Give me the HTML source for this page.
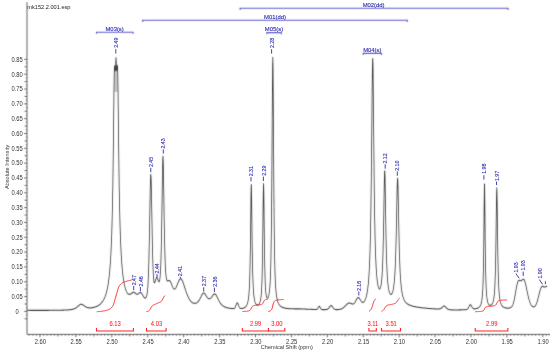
<!DOCTYPE html>
<html><head><meta charset="utf-8"><style>html,body{margin:0;padding:0;background:#fff;overflow:hidden}svg{display:block}</style></head>
<body><svg width="550" height="352" viewBox="0 0 550 352">
<rect width="550" height="352" fill="#fff"/>
<filter id="bl" filterUnits="userSpaceOnUse" x="0" y="0" width="550" height="352"><feConvolveMatrix order="3" kernelMatrix="1 6 1 6 36 6 1 6 1" divisor="64" edgeMode="duplicate"/></filter><g filter="url(#bl)">
<g transform="scale(0.76,1)">
<path d="M35.53,2.2 V334.4 H723.68" fill="none" stroke="#4e4e4e" stroke-width="1.0"/>
<path d="M32.37,318.81H35.53 M34.21,315.11H35.53 M31.84,311.40H35.53 M34.21,307.69H35.53 M32.37,303.99H35.53 M34.21,300.28H35.53 M31.84,296.57H35.53 M34.21,292.87H35.53 M32.37,289.16H35.53 M34.21,285.46H35.53 M31.84,281.75H35.53 M34.21,278.04H35.53 M32.37,274.34H35.53 M34.21,270.63H35.53 M31.84,266.92H35.53 M34.21,263.22H35.53 M32.37,259.51H35.53 M34.21,255.81H35.53 M31.84,252.10H35.53 M34.21,248.39H35.53 M32.37,244.69H35.53 M34.21,240.98H35.53 M31.84,237.27H35.53 M34.21,233.57H35.53 M32.37,229.86H35.53 M34.21,226.16H35.53 M31.84,222.45H35.53 M34.21,218.74H35.53 M32.37,215.04H35.53 M34.21,211.33H35.53 M31.84,207.62H35.53 M34.21,203.92H35.53 M32.37,200.21H35.53 M34.21,196.51H35.53 M31.84,192.80H35.53 M34.21,189.09H35.53 M32.37,185.39H35.53 M34.21,181.68H35.53 M31.84,177.97H35.53 M34.21,174.27H35.53 M32.37,170.56H35.53 M34.21,166.86H35.53 M31.84,163.15H35.53 M34.21,159.44H35.53 M32.37,155.74H35.53 M34.21,152.03H35.53 M31.84,148.32H35.53 M34.21,144.62H35.53 M32.37,140.91H35.53 M34.21,137.21H35.53 M31.84,133.50H35.53 M34.21,129.79H35.53 M32.37,126.09H35.53 M34.21,122.38H35.53 M31.84,118.67H35.53 M34.21,114.97H35.53 M32.37,111.26H35.53 M34.21,107.56H35.53 M31.84,103.85H35.53 M34.21,100.14H35.53 M32.37,96.44H35.53 M34.21,92.73H35.53 M31.84,89.02H35.53 M34.21,85.32H35.53 M32.37,81.61H35.53 M34.21,77.91H35.53 M31.84,74.20H35.53 M34.21,70.49H35.53 M32.37,66.79H35.53 M34.21,63.08H35.53 M31.84,59.37H35.53 M38.45,334.4V335.59999999999997 M43.18,334.4V335.59999999999997 M47.91,334.4V335.59999999999997 M52.63,334.4V337.2 M57.36,334.4V335.59999999999997 M62.08,334.4V335.59999999999997 M66.81,334.4V335.59999999999997 M71.53,334.4V335.59999999999997 M76.26,334.4V336.4 M80.99,334.4V335.59999999999997 M85.71,334.4V335.59999999999997 M90.44,334.4V335.59999999999997 M95.16,334.4V335.59999999999997 M99.89,334.4V337.2 M104.61,334.4V335.59999999999997 M109.34,334.4V335.59999999999997 M114.07,334.4V335.59999999999997 M118.79,334.4V335.59999999999997 M123.52,334.4V336.4 M128.24,334.4V335.59999999999997 M132.97,334.4V335.59999999999997 M137.69,334.4V335.59999999999997 M142.42,334.4V335.59999999999997 M147.14,334.4V337.2 M151.87,334.4V335.59999999999997 M156.60,334.4V335.59999999999997 M161.32,334.4V335.59999999999997 M166.05,334.4V335.59999999999997 M170.77,334.4V336.4 M175.50,334.4V335.59999999999997 M180.22,334.4V335.59999999999997 M184.95,334.4V335.59999999999997 M189.68,334.4V335.59999999999997 M194.40,334.4V337.2 M199.13,334.4V335.59999999999997 M203.85,334.4V335.59999999999997 M208.58,334.4V335.59999999999997 M213.30,334.4V335.59999999999997 M218.03,334.4V336.4 M222.76,334.4V335.59999999999997 M227.48,334.4V335.59999999999997 M232.21,334.4V335.59999999999997 M236.93,334.4V335.59999999999997 M241.66,334.4V337.2 M246.38,334.4V335.59999999999997 M251.11,334.4V335.59999999999997 M255.83,334.4V335.59999999999997 M260.56,334.4V335.59999999999997 M265.29,334.4V336.4 M270.01,334.4V335.59999999999997 M274.74,334.4V335.59999999999997 M279.46,334.4V335.59999999999997 M284.19,334.4V335.59999999999997 M288.91,334.4V337.2 M293.64,334.4V335.59999999999997 M298.37,334.4V335.59999999999997 M303.09,334.4V335.59999999999997 M307.82,334.4V335.59999999999997 M312.54,334.4V336.4 M317.27,334.4V335.59999999999997 M321.99,334.4V335.59999999999997 M326.72,334.4V335.59999999999997 M331.45,334.4V335.59999999999997 M336.17,334.4V337.2 M340.90,334.4V335.59999999999997 M345.62,334.4V335.59999999999997 M350.35,334.4V335.59999999999997 M355.07,334.4V335.59999999999997 M359.80,334.4V336.4 M364.53,334.4V335.59999999999997 M369.25,334.4V335.59999999999997 M373.98,334.4V335.59999999999997 M378.70,334.4V335.59999999999997 M383.43,334.4V337.2 M388.15,334.4V335.59999999999997 M392.88,334.4V335.59999999999997 M397.60,334.4V335.59999999999997 M402.33,334.4V335.59999999999997 M407.06,334.4V336.4 M411.78,334.4V335.59999999999997 M416.51,334.4V335.59999999999997 M421.23,334.4V335.59999999999997 M425.96,334.4V335.59999999999997 M430.68,334.4V337.2 M435.41,334.4V335.59999999999997 M440.14,334.4V335.59999999999997 M444.86,334.4V335.59999999999997 M449.59,334.4V335.59999999999997 M454.31,334.4V336.4 M459.04,334.4V335.59999999999997 M463.76,334.4V335.59999999999997 M468.49,334.4V335.59999999999997 M473.22,334.4V335.59999999999997 M477.94,334.4V337.2 M482.67,334.4V335.59999999999997 M487.39,334.4V335.59999999999997 M492.12,334.4V335.59999999999997 M496.84,334.4V335.59999999999997 M501.57,334.4V336.4 M506.29,334.4V335.59999999999997 M511.02,334.4V335.59999999999997 M515.75,334.4V335.59999999999997 M520.47,334.4V335.59999999999997 M525.20,334.4V337.2 M529.92,334.4V335.59999999999997 M534.65,334.4V335.59999999999997 M539.37,334.4V335.59999999999997 M544.10,334.4V335.59999999999997 M548.83,334.4V336.4 M553.55,334.4V335.59999999999997 M558.28,334.4V335.59999999999997 M563.00,334.4V335.59999999999997 M567.73,334.4V335.59999999999997 M572.45,334.4V337.2 M577.18,334.4V335.59999999999997 M581.91,334.4V335.59999999999997 M586.63,334.4V335.59999999999997 M591.36,334.4V335.59999999999997 M596.08,334.4V336.4 M600.81,334.4V335.59999999999997 M605.53,334.4V335.59999999999997 M610.26,334.4V335.59999999999997 M614.98,334.4V335.59999999999997 M619.71,334.4V337.2 M624.44,334.4V335.59999999999997 M629.16,334.4V335.59999999999997 M633.89,334.4V335.59999999999997 M638.61,334.4V335.59999999999997 M643.34,334.4V336.4 M648.06,334.4V335.59999999999997 M652.79,334.4V335.59999999999997 M657.52,334.4V335.59999999999997 M662.24,334.4V335.59999999999997 M666.97,334.4V337.2 M671.69,334.4V335.59999999999997 M676.42,334.4V335.59999999999997 M681.14,334.4V335.59999999999997 M685.87,334.4V335.59999999999997 M690.60,334.4V336.4 M695.32,334.4V335.59999999999997 M700.05,334.4V335.59999999999997 M704.77,334.4V335.59999999999997 M709.50,334.4V335.59999999999997 M714.22,334.4V337.2 M718.95,334.4V335.59999999999997 M723.67,334.4V335.59999999999997" fill="none" stroke="#4e4e4e" stroke-width="1.0"/>
<rect x="150.39" y="67.5" width="4.47" height="24.5" fill="#c4c4c4"/>
<path d="M35.53,310.33 L35.79,310.33 L36.05,310.34 L36.32,310.34 L36.58,310.34 L36.84,310.34 L37.11,310.34 L37.37,310.34 L37.63,310.34 L37.89,310.34 L38.16,310.34 L38.42,310.34 L38.68,310.34 L38.95,310.35 L39.21,310.35 L39.47,310.35 L39.74,310.35 L40.00,310.35 L40.26,310.35 L40.53,310.35 L40.79,310.35 L41.05,310.35 L41.32,310.35 L41.58,310.35 L41.84,310.35 L42.11,310.35 L42.37,310.36 L42.63,310.36 L42.89,310.36 L43.16,310.36 L43.42,310.36 L43.68,310.36 L43.95,310.36 L44.21,310.36 L44.47,310.36 L44.74,310.36 L45.00,310.36 L45.26,310.36 L45.53,310.36 L45.79,310.36 L46.05,310.36 L46.32,310.36 L46.58,310.36 L46.84,310.36 L47.11,310.36 L47.37,310.37 L47.63,310.37 L47.89,310.37 L48.16,310.37 L48.42,310.37 L48.68,310.37 L48.95,310.37 L49.21,310.37 L49.47,310.37 L49.74,310.37 L50.00,310.37 L50.26,310.37 L50.53,310.37 L50.79,310.37 L51.05,310.37 L51.32,310.37 L51.58,310.37 L51.84,310.37 L52.11,310.37 L52.37,310.37 L52.63,310.37 L52.89,310.37 L53.16,310.37 L53.42,310.37 L53.68,310.37 L53.95,310.37 L54.21,310.37 L54.47,310.37 L54.74,310.37 L55.00,310.37 L55.26,310.37 L55.53,310.37 L55.79,310.37 L56.05,310.37 L56.32,310.37 L56.58,310.37 L56.84,310.37 L57.11,310.37 L57.37,310.37 L57.63,310.37 L57.89,310.37 L58.16,310.36 L58.42,310.36 L58.68,310.36 L58.95,310.36 L59.21,310.36 L59.47,310.36 L59.74,310.36 L60.00,310.36 L60.26,310.36 L60.53,310.36 L60.79,310.36 L61.05,310.36 L61.32,310.36 L61.58,310.36 L61.84,310.36 L62.11,310.35 L62.37,310.35 L62.63,310.35 L62.89,310.35 L63.16,310.35 L63.42,310.35 L63.68,310.35 L63.95,310.35 L64.21,310.35 L64.47,310.34 L64.74,310.34 L65.00,310.34 L65.26,310.34 L65.53,310.34 L65.79,310.34 L66.05,310.34 L66.32,310.33 L66.58,310.33 L66.84,310.33 L67.11,310.33 L67.37,310.33 L67.63,310.33 L67.89,310.32 L68.16,310.32 L68.42,310.32 L68.68,310.32 L68.95,310.32 L69.21,310.31 L69.47,310.31 L69.74,310.31 L70.00,310.31 L70.26,310.31 L70.53,310.30 L70.79,310.30 L71.05,310.30 L71.32,310.30 L71.58,310.29 L71.84,310.29 L72.11,310.29 L72.37,310.28 L72.63,310.28 L72.89,310.28 L73.16,310.28 L73.42,310.27 L73.68,310.27 L73.95,310.27 L74.21,310.26 L74.47,310.26 L74.74,310.26 L75.00,310.25 L75.26,310.25 L75.53,310.24 L75.79,310.24 L76.05,310.24 L76.32,310.23 L76.58,310.23 L76.84,310.22 L77.11,310.22 L77.37,310.22 L77.63,310.21 L77.89,310.21 L78.16,310.20 L78.42,310.20 L78.68,310.19 L78.95,310.19 L79.21,310.18 L79.47,310.18 L79.74,310.18 L80.00,310.17 L80.26,310.17 L80.53,310.17 L80.79,310.16 L81.05,310.16 L81.32,310.15 L81.58,310.15 L81.84,310.14 L82.11,310.14 L82.37,310.13 L82.63,310.13 L82.89,310.12 L83.16,310.12 L83.42,310.11 L83.68,310.10 L83.95,310.10 L84.21,310.09 L84.47,310.08 L84.74,310.08 L85.00,310.07 L85.26,310.06 L85.53,310.05 L85.79,310.05 L86.05,310.04 L86.32,310.03 L86.58,310.02 L86.84,310.01 L87.11,310.00 L87.37,309.99 L87.63,309.98 L87.89,309.97 L88.16,309.96 L88.42,309.95 L88.68,309.93 L88.95,309.92 L89.21,309.91 L89.47,309.90 L89.74,309.88 L90.00,309.87 L90.26,309.85 L90.53,309.83 L90.79,309.82 L91.05,309.80 L91.32,309.78 L91.58,309.76 L91.84,309.74 L92.11,309.72 L92.37,309.69 L92.63,309.67 L92.89,309.64 L93.16,309.62 L93.42,309.59 L93.68,309.56 L93.95,309.52 L94.21,309.49 L94.47,309.45 L94.74,309.41 L95.00,309.37 L95.26,309.33 L95.53,309.28 L95.79,309.23 L96.05,309.18 L96.32,309.12 L96.58,309.06 L96.84,308.99 L97.11,308.92 L97.37,308.85 L97.63,308.77 L97.89,308.69 L98.16,308.60 L98.42,308.51 L98.68,308.41 L98.95,308.31 L99.21,308.20 L99.47,308.09 L99.74,307.96 L100.00,307.84 L100.26,307.71 L100.53,307.57 L100.79,307.42 L101.05,307.27 L101.32,307.12 L101.58,306.96 L101.84,306.79 L102.11,306.62 L102.37,306.45 L102.63,306.27 L102.89,306.09 L103.16,305.91 L103.42,305.73 L103.68,305.55 L103.95,305.38 L104.21,305.21 L104.47,305.04 L104.74,304.89 L105.00,304.75 L105.26,304.62 L105.53,304.50 L105.79,304.40 L106.05,304.32 L106.32,304.27 L106.58,304.23 L106.84,304.21 L107.11,304.22 L107.37,304.25 L107.63,304.30 L107.89,304.36 L108.16,304.45 L108.42,304.55 L108.68,304.66 L108.95,304.79 L109.21,304.92 L109.47,305.06 L109.74,305.21 L110.00,305.36 L110.26,305.51 L110.53,305.66 L110.79,305.81 L111.05,305.96 L111.32,306.10 L111.58,306.24 L111.84,306.38 L112.11,306.51 L112.37,306.63 L112.63,306.75 L112.89,306.87 L113.16,306.97 L113.42,307.07 L113.68,307.17 L113.95,307.26 L114.21,307.34 L114.47,307.41 L114.74,307.48 L115.00,307.55 L115.26,307.60 L115.53,307.66 L115.79,307.70 L116.05,307.74 L116.32,307.78 L116.58,307.81 L116.84,307.84 L117.11,307.86 L117.37,307.88 L117.63,307.89 L117.89,307.90 L118.16,307.90 L118.42,307.91 L118.68,307.90 L118.95,307.90 L119.21,307.89 L119.47,307.88 L119.74,307.86 L120.00,307.85 L120.26,307.83 L120.53,307.80 L120.79,307.78 L121.05,307.75 L121.32,307.72 L121.58,307.68 L121.84,307.65 L122.11,307.61 L122.37,307.57 L122.63,307.53 L122.89,307.48 L123.16,307.44 L123.42,307.39 L123.68,307.33 L123.95,307.28 L124.21,307.22 L124.47,307.16 L124.74,307.10 L125.00,307.04 L125.26,306.97 L125.53,306.90 L125.79,306.83 L126.05,306.76 L126.32,306.68 L126.58,306.60 L126.84,306.51 L127.11,306.43 L127.37,306.34 L127.63,306.25 L127.89,306.15 L128.16,306.05 L128.42,305.95 L128.68,305.84 L128.95,305.73 L129.21,305.61 L129.47,305.49 L129.74,305.37 L130.00,305.24 L130.26,305.11 L130.53,304.97 L130.79,304.82 L131.05,304.67 L131.32,304.52 L131.58,304.36 L131.84,304.18 L132.11,303.99 L132.37,303.80 L132.63,303.60 L132.89,303.39 L133.16,303.18 L133.42,302.96 L133.68,302.72 L133.95,302.48 L134.21,302.23 L134.47,301.97 L134.74,301.70 L135.00,301.41 L135.26,301.12 L135.53,300.81 L135.79,300.49 L136.05,300.15 L136.32,299.80 L136.58,299.43 L136.84,299.05 L137.11,298.64 L137.37,298.22 L137.63,297.78 L137.89,297.31 L138.16,296.82 L138.42,296.31 L138.68,295.77 L138.95,295.20 L139.21,294.60 L139.47,293.96 L139.74,293.29 L140.00,292.58 L140.26,291.83 L140.53,291.04 L140.79,290.20 L141.05,289.31 L141.32,288.36 L141.58,287.34 L141.84,286.27 L142.11,285.11 L142.37,283.88 L142.63,282.57 L142.89,281.16 L143.16,279.64 L143.42,278.01 L143.68,276.25 L143.95,274.35 L144.21,272.30 L144.47,270.07 L144.74,267.65 L145.00,265.01 L145.26,262.12 L145.53,258.96 L145.79,255.49 L146.05,251.65 L146.32,247.41 L146.58,242.68 L146.84,237.41 L147.11,231.48 L147.37,224.80 L147.63,217.21 L147.89,208.55 L148.16,198.63 L148.42,187.21 L148.68,174.09 L148.95,159.12 L149.21,142.33 L149.47,124.16 L149.74,105.73 L150.00,88.88 L150.26,75.83 L150.53,68.13 L150.79,65.69 L151.05,66.85 L151.32,69.30 L151.58,71.02 L151.84,70.50 L152.11,66.87 L152.37,60.93 L152.63,57.52 L152.89,60.86 L153.16,66.74 L153.42,70.31 L153.68,70.77 L153.95,69.00 L154.21,66.49 L154.47,65.28 L154.74,67.66 L155.00,75.32 L155.26,88.31 L155.53,105.11 L155.79,123.49 L156.05,141.61 L156.32,158.35 L156.58,173.27 L156.84,186.34 L157.11,197.70 L157.37,207.57 L157.63,216.17 L157.89,223.71 L158.16,230.34 L158.42,236.20 L158.68,241.42 L158.95,246.08 L159.21,250.27 L159.47,254.04 L159.74,257.45 L160.00,260.55 L160.26,263.36 L160.53,265.93 L160.79,268.28 L161.05,270.44 L161.32,272.42 L161.58,274.24 L161.84,275.92 L162.11,277.47 L162.37,278.90 L162.63,280.23 L162.89,281.46 L163.16,282.60 L163.42,283.65 L163.68,284.63 L163.95,285.54 L164.21,286.39 L164.47,287.17 L164.74,287.90 L165.00,288.57 L165.26,289.20 L165.53,289.78 L165.79,290.32 L166.05,290.81 L166.32,291.27 L166.58,291.69 L166.84,292.07 L167.11,292.42 L167.37,292.74 L167.63,293.03 L167.89,293.28 L168.16,293.51 L168.42,293.71 L168.68,293.88 L168.95,294.03 L169.21,294.15 L169.47,294.24 L169.74,294.31 L170.00,294.35 L170.26,294.37 L170.53,294.37 L170.79,294.34 L171.05,294.30 L171.32,294.23 L171.58,294.14 L171.84,294.04 L172.11,293.92 L172.37,293.79 L172.63,293.64 L172.89,293.48 L173.16,293.32 L173.42,293.16 L173.68,293.00 L173.95,292.84 L174.21,292.69 L174.47,292.55 L174.74,292.44 L175.00,292.34 L175.26,292.27 L175.53,292.23 L175.79,292.21 L176.05,292.23 L176.32,292.28 L176.58,292.36 L176.84,292.46 L177.11,292.59 L177.37,292.74 L177.63,292.91 L177.89,293.09 L178.16,293.27 L178.42,293.45 L178.68,293.62 L178.95,293.79 L179.21,293.93 L179.47,294.05 L179.74,294.15 L180.00,294.22 L180.26,294.25 L180.53,294.26 L180.79,294.24 L181.05,294.18 L181.32,294.10 L181.58,293.99 L181.84,293.86 L182.11,293.71 L182.37,293.55 L182.63,293.38 L182.89,293.21 L183.16,293.05 L183.42,292.90 L183.68,292.76 L183.95,292.65 L184.21,292.56 L184.47,292.51 L184.74,292.50 L185.00,292.52 L185.26,292.58 L185.53,292.69 L185.79,292.84 L186.05,293.03 L186.32,293.26 L186.58,293.52 L186.84,293.82 L187.11,294.14 L187.37,294.49 L187.63,294.85 L187.89,295.22 L188.16,295.59 L188.42,295.96 L188.68,296.31 L188.95,296.65 L189.21,296.97 L189.47,297.26 L189.74,297.52 L190.00,297.73 L190.26,297.90 L190.53,298.03 L190.79,298.10 L191.05,298.11 L191.32,298.06 L191.58,297.94 L191.84,297.75 L192.11,297.48 L192.37,297.11 L192.63,296.64 L192.89,296.03 L193.16,295.27 L193.42,294.31 L193.68,293.10 L193.95,291.58 L194.21,289.66 L194.47,287.24 L194.74,284.21 L195.00,280.44 L195.26,275.80 L195.53,270.17 L195.79,263.45 L196.05,255.56 L196.32,246.52 L196.58,236.38 L196.84,225.34 L197.11,213.74 L197.37,202.15 L197.63,191.36 L197.89,182.42 L198.16,176.42 L198.42,174.25 L198.68,176.26 L198.95,182.10 L199.21,190.87 L199.47,201.46 L199.74,212.81 L200.00,224.13 L200.26,234.85 L200.53,244.61 L200.79,253.21 L201.05,260.57 L201.32,266.68 L201.58,271.62 L201.84,275.46 L202.11,278.34 L202.37,280.39 L202.63,281.73 L202.89,282.50 L203.16,282.81 L203.42,282.75 L203.68,282.43 L203.95,281.92 L204.21,281.29 L204.47,280.60 L204.74,279.90 L205.00,279.24 L205.26,278.65 L205.53,278.18 L205.79,277.84 L206.05,277.64 L206.32,277.59 L206.58,277.69 L206.84,277.94 L207.11,278.30 L207.37,278.76 L207.63,279.29 L207.89,279.86 L208.16,280.41 L208.42,280.93 L208.68,281.35 L208.95,281.65 L209.21,281.77 L209.47,281.67 L209.74,281.28 L210.00,280.55 L210.26,279.40 L210.53,277.74 L210.79,275.48 L211.05,272.50 L211.32,268.64 L211.58,263.78 L211.84,257.73 L212.11,250.35 L212.37,241.48 L212.63,231.04 L212.89,219.05 L213.16,205.75 L213.42,191.71 L213.68,178.03 L213.95,166.32 L214.21,158.50 L214.47,156.15 L214.74,159.76 L215.00,168.51 L215.26,180.64 L215.53,194.30 L215.79,207.97 L216.05,220.72 L216.32,232.08 L216.58,241.89 L216.84,250.16 L217.11,257.02 L217.37,262.61 L217.63,267.10 L217.89,270.67 L218.16,273.46 L218.42,275.62 L218.68,277.26 L218.95,278.50 L219.21,279.40 L219.47,280.04 L219.74,280.47 L220.00,280.74 L220.26,280.89 L220.53,280.94 L220.79,280.93 L221.05,280.87 L221.32,280.79 L221.58,280.70 L221.84,280.61 L222.11,280.55 L222.37,280.51 L222.63,280.52 L222.89,280.56 L223.16,280.66 L223.42,280.81 L223.68,281.02 L223.95,281.28 L224.21,281.59 L224.47,281.95 L224.74,282.35 L225.00,282.79 L225.26,283.27 L225.53,283.76 L225.79,284.28 L226.05,284.80 L226.32,285.31 L226.58,285.83 L226.84,286.32 L227.11,286.79 L227.37,287.23 L227.63,287.63 L227.89,287.99 L228.16,288.30 L228.42,288.56 L228.68,288.77 L228.95,288.92 L229.21,289.02 L229.47,289.06 L229.74,289.04 L230.00,288.96 L230.26,288.83 L230.53,288.65 L230.79,288.42 L231.05,288.14 L231.32,287.82 L231.58,287.47 L231.84,287.07 L232.11,286.65 L232.37,286.20 L232.63,285.73 L232.89,285.24 L233.16,284.74 L233.42,284.23 L233.68,283.72 L233.95,283.21 L234.21,282.71 L234.47,282.21 L234.74,281.74 L235.00,281.28 L235.26,280.86 L235.53,280.46 L235.79,280.09 L236.05,279.77 L236.32,279.48 L236.58,279.24 L236.84,279.05 L237.11,278.92 L237.37,278.83 L237.63,278.80 L237.89,278.82 L238.16,278.90 L238.42,279.03 L238.68,279.21 L238.95,279.45 L239.21,279.74 L239.47,280.07 L239.74,280.44 L240.00,280.86 L240.26,281.31 L240.53,281.80 L240.79,282.31 L241.05,282.85 L241.32,283.41 L241.58,283.99 L241.84,284.59 L242.11,285.20 L242.37,285.81 L242.63,286.44 L242.89,287.06 L243.16,287.69 L243.42,288.32 L243.68,288.94 L243.95,289.55 L244.21,290.16 L244.47,290.77 L244.74,291.36 L245.00,291.94 L245.26,292.51 L245.53,293.06 L245.79,293.61 L246.05,294.14 L246.32,294.65 L246.58,295.15 L246.84,295.63 L247.11,296.10 L247.37,296.55 L247.63,296.99 L247.89,297.41 L248.16,297.81 L248.42,298.20 L248.68,298.57 L248.95,298.92 L249.21,299.26 L249.47,299.59 L249.74,299.89 L250.00,300.19 L250.26,300.46 L250.53,300.73 L250.79,300.97 L251.05,301.21 L251.32,301.43 L251.58,301.64 L251.84,301.83 L252.11,302.01 L252.37,302.18 L252.63,302.34 L252.89,302.48 L253.16,302.61 L253.42,302.74 L253.68,302.85 L253.95,302.95 L254.21,303.03 L254.47,303.11 L254.74,303.18 L255.00,303.23 L255.26,303.28 L255.53,303.31 L255.79,303.34 L256.05,303.35 L256.32,303.36 L256.58,303.35 L256.84,303.33 L257.11,303.30 L257.37,303.26 L257.63,303.20 L257.89,303.14 L258.16,303.06 L258.42,302.97 L258.68,302.86 L258.95,302.74 L259.21,302.61 L259.47,302.46 L259.74,302.30 L260.00,302.12 L260.26,301.93 L260.53,301.72 L260.79,301.49 L261.05,301.25 L261.32,300.99 L261.58,300.71 L261.84,300.42 L262.11,300.11 L262.37,299.78 L262.63,299.44 L262.89,299.08 L263.16,298.70 L263.42,298.33 L263.68,297.94 L263.95,297.54 L264.21,297.14 L264.47,296.73 L264.74,296.31 L265.00,295.90 L265.26,295.50 L265.53,295.11 L265.79,294.73 L266.05,294.38 L266.32,294.06 L266.58,293.77 L266.84,293.52 L267.11,293.31 L267.37,293.15 L267.63,293.05 L267.89,293.00 L268.16,293.00 L268.42,293.06 L268.68,293.17 L268.95,293.32 L269.21,293.52 L269.47,293.75 L269.74,294.02 L270.00,294.31 L270.26,294.62 L270.53,294.95 L270.79,295.28 L271.05,295.61 L271.32,295.94 L271.58,296.26 L271.84,296.58 L272.11,296.88 L272.37,297.16 L272.63,297.43 L272.89,297.67 L273.16,297.90 L273.42,298.10 L273.68,298.28 L273.95,298.43 L274.21,298.56 L274.47,298.66 L274.74,298.73 L275.00,298.78 L275.26,298.81 L275.53,298.80 L275.79,298.77 L276.05,298.72 L276.32,298.63 L276.58,298.53 L276.84,298.40 L277.11,298.24 L277.37,298.07 L277.63,297.87 L277.89,297.65 L278.16,297.42 L278.42,297.17 L278.68,296.90 L278.95,296.63 L279.21,296.34 L279.47,296.06 L279.74,295.77 L280.00,295.48 L280.26,295.21 L280.53,294.94 L280.79,294.70 L281.05,294.48 L281.32,294.29 L281.58,294.13 L281.84,294.00 L282.11,293.93 L282.37,293.89 L282.63,293.90 L282.89,293.96 L283.16,294.07 L283.42,294.22 L283.68,294.42 L283.95,294.66 L284.21,294.94 L284.47,295.25 L284.74,295.60 L285.00,295.96 L285.26,296.35 L285.53,296.75 L285.79,297.16 L286.05,297.58 L286.32,298.00 L286.58,298.43 L286.84,298.85 L287.11,299.26 L287.37,299.67 L287.63,300.07 L287.89,300.46 L288.16,300.84 L288.42,301.20 L288.68,301.55 L288.95,301.90 L289.21,302.22 L289.47,302.54 L289.74,302.84 L290.00,303.13 L290.26,303.40 L290.53,303.67 L290.79,303.92 L291.05,304.16 L291.32,304.39 L291.58,304.60 L291.84,304.81 L292.11,305.00 L292.37,305.19 L292.63,305.37 L292.89,305.54 L293.16,305.70 L293.42,305.85 L293.68,305.99 L293.95,306.13 L294.21,306.26 L294.47,306.38 L294.74,306.50 L295.00,306.61 L295.26,306.71 L295.53,306.81 L295.79,306.91 L296.05,307.00 L296.32,307.08 L296.58,307.17 L296.84,307.24 L297.11,307.32 L297.37,307.39 L297.63,307.46 L297.89,307.52 L298.16,307.58 L298.42,307.64 L298.68,307.70 L298.95,307.75 L299.21,307.81 L299.47,307.86 L299.74,307.90 L300.00,307.95 L300.26,307.99 L300.53,308.04 L300.79,308.08 L301.05,308.12 L301.32,308.15 L301.58,308.19 L301.84,308.23 L302.11,308.26 L302.37,308.29 L302.63,308.32 L302.89,308.35 L303.16,308.38 L303.42,308.41 L303.68,308.43 L303.95,308.46 L304.21,308.48 L304.47,308.50 L304.74,308.52 L305.00,308.54 L305.26,308.56 L305.53,308.58 L305.79,308.59 L306.05,308.60 L306.32,308.61 L306.58,308.61 L306.84,308.61 L307.11,308.60 L307.37,308.58 L307.63,308.54 L307.89,308.47 L308.16,308.38 L308.42,308.26 L308.68,308.09 L308.95,307.86 L309.21,307.58 L309.47,307.24 L309.74,306.84 L310.00,306.37 L310.26,305.86 L310.53,305.32 L310.79,304.77 L311.05,304.23 L311.32,303.74 L311.58,303.33 L311.84,303.04 L312.11,302.88 L312.37,302.87 L312.63,303.02 L312.89,303.31 L313.16,303.71 L313.42,304.20 L313.68,304.73 L313.95,305.29 L314.21,305.83 L314.47,306.34 L314.74,306.81 L315.00,307.22 L315.26,307.56 L315.53,307.85 L315.79,308.07 L316.05,308.24 L316.32,308.36 L316.58,308.45 L316.84,308.51 L317.11,308.54 L317.37,308.55 L317.63,308.55 L317.89,308.54 L318.16,308.52 L318.42,308.49 L318.68,308.46 L318.95,308.42 L319.21,308.37 L319.47,308.32 L319.74,308.27 L320.00,308.21 L320.26,308.14 L320.53,308.07 L320.79,307.98 L321.05,307.90 L321.32,307.80 L321.58,307.69 L321.84,307.57 L322.11,307.44 L322.37,307.30 L322.63,307.14 L322.89,306.97 L323.16,306.77 L323.42,306.56 L323.68,306.32 L323.95,306.05 L324.21,305.74 L324.47,305.40 L324.74,305.02 L325.00,304.58 L325.26,304.07 L325.53,303.50 L325.79,302.83 L326.05,302.05 L326.32,301.14 L326.58,300.07 L326.84,298.79 L327.11,297.25 L327.37,295.38 L327.63,293.09 L327.89,290.25 L328.16,286.68 L328.42,282.15 L328.68,276.31 L328.95,268.75 L329.21,258.90 L329.47,246.23 L329.74,230.48 L330.00,212.47 L330.26,195.27 L330.53,184.44 L330.79,184.98 L331.05,196.59 L331.32,214.01 L331.58,231.84 L331.84,247.26 L332.11,259.60 L332.37,269.16 L332.63,276.50 L332.89,282.15 L333.16,286.54 L333.42,289.99 L333.68,292.72 L333.95,294.92 L334.21,296.70 L334.47,298.16 L334.74,299.36 L335.00,300.36 L335.26,301.19 L335.53,301.89 L335.79,302.48 L336.05,302.98 L336.32,303.40 L336.58,303.75 L336.84,304.05 L337.11,304.30 L337.37,304.50 L337.63,304.66 L337.89,304.79 L338.16,304.88 L338.42,304.94 L338.68,304.97 L338.95,304.97 L339.21,304.94 L339.47,304.88 L339.74,304.79 L340.00,304.67 L340.26,304.52 L340.53,304.32 L340.79,304.09 L341.05,303.81 L341.32,303.47 L341.58,303.08 L341.84,302.61 L342.11,302.06 L342.37,301.40 L342.63,300.61 L342.89,299.67 L343.16,298.52 L343.42,297.10 L343.68,295.30 L343.95,292.98 L344.21,289.90 L344.47,285.76 L344.74,280.14 L345.00,272.57 L345.26,262.55 L345.53,249.68 L345.79,233.90 L346.05,216.02 L346.32,198.52 L346.58,186.02 L346.84,183.49 L347.11,192.07 L347.37,207.95 L347.63,225.93 L347.89,242.60 L348.16,256.55 L348.42,267.56 L348.68,275.92 L348.95,282.11 L349.21,286.61 L349.47,289.88 L349.74,292.26 L350.00,294.02 L350.26,295.32 L350.53,296.30 L350.79,297.02 L351.05,297.54 L351.32,297.89 L351.58,298.09 L351.84,298.17 L352.11,298.12 L352.37,297.95 L352.63,297.66 L352.89,297.26 L353.16,296.72 L353.42,296.04 L353.68,295.21 L353.95,294.19 L354.21,292.97 L354.47,291.50 L354.74,289.72 L355.00,287.54 L355.26,284.86 L355.53,281.49 L355.79,277.19 L356.05,271.62 L356.32,264.34 L356.58,254.77 L356.84,242.27 L357.11,226.15 L357.37,205.82 L357.63,180.95 L357.89,151.83 L358.16,120.04 L358.42,89.36 L358.68,66.13 L358.95,57.35 L359.21,66.21 L359.47,89.51 L359.74,120.26 L360.00,152.13 L360.26,181.33 L360.53,206.28 L360.79,226.69 L361.05,242.89 L361.32,255.48 L361.58,265.15 L361.84,272.54 L362.11,278.21 L362.37,282.62 L362.63,286.11 L362.89,288.92 L363.16,291.24 L363.42,293.18 L363.68,294.82 L363.95,296.23 L364.21,297.44 L364.47,298.50 L364.74,299.43 L365.00,300.25 L365.26,300.97 L365.53,301.61 L365.79,302.19 L366.05,302.70 L366.32,303.17 L366.58,303.59 L366.84,303.96 L367.11,304.31 L367.37,304.62 L367.63,304.91 L367.89,305.17 L368.16,305.41 L368.42,305.63 L368.68,305.83 L368.95,306.02 L369.21,306.20 L369.47,306.36 L369.74,306.51 L370.00,306.65 L370.26,306.78 L370.53,306.90 L370.79,307.01 L371.05,307.11 L371.32,307.21 L371.58,307.31 L371.84,307.39 L372.11,307.47 L372.37,307.55 L372.63,307.62 L372.89,307.69 L373.16,307.75 L373.42,307.81 L373.68,307.87 L373.95,307.93 L374.21,307.98 L374.47,308.02 L374.74,308.07 L375.00,308.11 L375.26,308.15 L375.53,308.19 L375.79,308.23 L376.05,308.26 L376.32,308.30 L376.58,308.33 L376.84,308.36 L377.11,308.39 L377.37,308.41 L377.63,308.44 L377.89,308.46 L378.16,308.49 L378.42,308.51 L378.68,308.53 L378.95,308.55 L379.21,308.57 L379.47,308.59 L379.74,308.60 L380.00,308.62 L380.26,308.63 L380.53,308.65 L380.79,308.66 L381.05,308.68 L381.32,308.69 L381.58,308.70 L381.84,308.71 L382.11,308.72 L382.37,308.73 L382.63,308.74 L382.89,308.75 L383.16,308.76 L383.42,308.77 L383.68,308.77 L383.95,308.78 L384.21,308.79 L384.47,308.80 L384.74,308.80 L385.00,308.81 L385.26,308.81 L385.53,308.82 L385.79,308.82 L386.05,308.83 L386.32,308.83 L386.58,308.83 L386.84,308.84 L387.11,308.84 L387.37,308.84 L387.63,308.85 L387.89,308.85 L388.16,308.85 L388.42,308.85 L388.68,308.85 L388.95,308.85 L389.21,308.86 L389.47,308.86 L389.74,308.86 L390.00,308.86 L390.26,308.86 L390.53,308.86 L390.79,308.86 L391.05,308.86 L391.32,308.86 L391.58,308.86 L391.84,308.86 L392.11,308.86 L392.37,308.85 L392.63,308.85 L392.89,308.85 L393.16,308.85 L393.42,308.85 L393.68,308.85 L393.95,308.85 L394.21,308.84 L394.47,308.84 L394.74,308.84 L395.00,308.85 L395.26,308.86 L395.53,308.87 L395.79,308.88 L396.05,308.90 L396.32,308.91 L396.58,308.92 L396.84,308.93 L397.11,308.94 L397.37,308.95 L397.63,308.96 L397.89,308.97 L398.16,308.98 L398.42,308.99 L398.68,309.00 L398.95,309.01 L399.21,309.02 L399.47,309.03 L399.74,309.04 L400.00,309.05 L400.26,309.06 L400.53,309.07 L400.79,309.08 L401.05,309.08 L401.32,309.09 L401.58,309.10 L401.84,309.11 L402.11,309.12 L402.37,309.13 L402.63,309.14 L402.89,309.15 L403.16,309.16 L403.42,309.16 L403.68,309.17 L403.95,309.18 L404.21,309.19 L404.47,309.20 L404.74,309.21 L405.00,309.21 L405.26,309.22 L405.53,309.23 L405.79,309.24 L406.05,309.25 L406.32,309.25 L406.58,309.26 L406.84,309.27 L407.11,309.28 L407.37,309.29 L407.63,309.29 L407.89,309.30 L408.16,309.31 L408.42,309.32 L408.68,309.32 L408.95,309.33 L409.21,309.34 L409.47,309.34 L409.74,309.35 L410.00,309.36 L410.26,309.37 L410.53,309.37 L410.79,309.38 L411.05,309.39 L411.32,309.39 L411.58,309.40 L411.84,309.40 L412.11,309.41 L412.37,309.42 L412.63,309.42 L412.89,309.43 L413.16,309.43 L413.42,309.44 L413.68,309.45 L413.95,309.45 L414.21,309.46 L414.47,309.46 L414.74,309.46 L415.00,309.47 L415.26,309.47 L415.53,309.47 L415.79,309.46 L416.05,309.45 L416.32,309.42 L416.58,309.38 L416.84,309.31 L417.11,309.21 L417.37,309.07 L417.63,308.88 L417.89,308.64 L418.16,308.34 L418.42,307.99 L418.68,307.62 L418.95,307.24 L419.21,306.89 L419.47,306.59 L419.74,306.39 L420.00,306.30 L420.26,306.34 L420.53,306.51 L420.79,306.78 L421.05,307.12 L421.32,307.50 L421.58,307.89 L421.84,308.26 L422.11,308.59 L422.37,308.87 L422.63,309.09 L422.89,309.26 L423.16,309.38 L423.42,309.47 L423.68,309.53 L423.95,309.57 L424.21,309.60 L424.47,309.61 L424.74,309.63 L425.00,309.63 L425.26,309.64 L425.53,309.64 L425.79,309.64 L426.05,309.65 L426.32,309.65 L426.58,309.65 L426.84,309.65 L427.11,309.64 L427.37,309.64 L427.63,309.64 L427.89,309.63 L428.16,309.62 L428.42,309.61 L428.68,309.60 L428.95,309.58 L429.21,309.56 L429.47,309.53 L429.74,309.49 L430.00,309.44 L430.26,309.38 L430.53,309.30 L430.79,309.21 L431.05,309.10 L431.32,308.98 L431.58,308.83 L431.84,308.65 L432.11,308.46 L432.37,308.24 L432.63,308.00 L432.89,307.75 L433.16,307.48 L433.42,307.20 L433.68,306.91 L433.95,306.63 L434.21,306.37 L434.47,306.12 L434.74,305.91 L435.00,305.75 L435.26,305.63 L435.53,305.58 L435.79,305.59 L436.05,305.67 L436.32,305.80 L436.58,305.98 L436.84,306.20 L437.11,306.45 L437.37,306.73 L437.63,307.01 L437.89,307.30 L438.16,307.58 L438.42,307.84 L438.68,308.10 L438.95,308.33 L439.21,308.54 L439.47,308.73 L439.74,308.90 L440.00,309.04 L440.26,309.17 L440.53,309.27 L440.79,309.36 L441.05,309.43 L441.32,309.48 L441.58,309.53 L441.84,309.56 L442.11,309.59 L442.37,309.61 L442.63,309.62 L442.89,309.63 L443.16,309.63 L443.42,309.64 L443.68,309.63 L443.95,309.63 L444.21,309.62 L444.47,309.61 L444.74,309.60 L445.00,309.58 L445.26,309.57 L445.53,309.55 L445.79,309.52 L446.05,309.50 L446.32,309.47 L446.58,309.43 L446.84,309.40 L447.11,309.36 L447.37,309.31 L447.63,309.26 L447.89,309.21 L448.16,309.15 L448.42,309.08 L448.68,309.01 L448.95,308.94 L449.21,308.86 L449.47,308.77 L449.74,308.67 L450.00,308.57 L450.26,308.46 L450.53,308.35 L450.79,308.22 L451.05,308.09 L451.32,307.95 L451.58,307.81 L451.84,307.65 L452.11,307.50 L452.37,307.33 L452.63,307.16 L452.89,306.98 L453.16,306.79 L453.42,306.60 L453.68,306.40 L453.95,306.20 L454.21,306.00 L454.47,305.80 L454.74,305.59 L455.00,305.38 L455.26,305.17 L455.53,304.97 L455.79,304.76 L456.05,304.57 L456.32,304.37 L456.58,304.19 L456.84,304.01 L457.11,303.84 L457.37,303.69 L457.63,303.54 L457.89,303.42 L458.16,303.31 L458.42,303.21 L458.68,303.14 L458.95,303.08 L459.21,303.04 L459.47,303.02 L459.74,303.02 L460.00,303.04 L460.26,303.08 L460.53,303.14 L460.79,303.18 L461.05,303.24 L461.32,303.32 L461.58,303.40 L461.84,303.48 L462.11,303.57 L462.37,303.66 L462.63,303.75 L462.89,303.83 L463.16,303.90 L463.42,303.97 L463.68,304.01 L463.95,304.04 L464.21,304.05 L464.47,304.04 L464.74,304.00 L465.00,303.93 L465.26,303.83 L465.53,303.70 L465.79,303.54 L466.05,303.34 L466.32,303.11 L466.58,302.85 L466.84,302.56 L467.11,302.24 L467.37,301.90 L467.63,301.53 L467.89,301.16 L468.16,300.77 L468.42,300.38 L468.68,299.99 L468.95,299.61 L469.21,299.24 L469.47,298.90 L469.74,298.59 L470.00,298.32 L470.26,298.08 L470.53,297.89 L470.79,297.75 L471.05,297.65 L471.32,297.62 L471.58,297.63 L471.84,297.70 L472.11,297.81 L472.37,297.97 L472.63,298.18 L472.89,298.42 L473.16,298.69 L473.42,298.98 L473.68,299.30 L473.95,299.62 L474.21,299.95 L474.47,300.28 L474.74,300.60 L475.00,300.91 L475.26,301.19 L475.53,301.46 L475.79,301.69 L476.05,301.90 L476.32,302.07 L476.58,302.20 L476.84,302.30 L477.11,302.36 L477.37,302.38 L477.63,302.36 L477.89,302.30 L478.16,302.21 L478.42,302.07 L478.68,301.90 L478.95,301.69 L479.21,301.45 L479.47,301.17 L479.74,300.84 L480.00,300.48 L480.26,300.09 L480.53,299.65 L480.79,299.16 L481.05,298.63 L481.32,298.05 L481.58,297.42 L481.84,296.73 L482.11,295.97 L482.37,295.15 L482.63,294.24 L482.89,293.25 L483.16,292.15 L483.42,290.95 L483.68,289.61 L483.95,288.13 L484.21,286.48 L484.47,284.64 L484.74,282.57 L485.00,280.24 L485.26,277.61 L485.53,274.63 L485.79,271.22 L486.05,267.32 L486.32,262.83 L486.58,257.63 L486.84,251.60 L487.11,244.57 L487.37,236.33 L487.63,226.67 L487.89,215.34 L488.16,202.05 L488.42,186.59 L488.68,168.83 L488.95,148.86 L489.21,127.22 L489.47,105.11 L489.74,84.54 L490.00,68.22 L490.26,58.93 L490.53,58.49 L490.79,67.00 L491.05,82.72 L491.32,102.91 L491.58,124.83 L491.84,146.41 L492.11,166.38 L492.37,184.18 L492.63,199.65 L492.89,212.94 L493.16,224.25 L493.42,233.86 L493.68,242.03 L493.95,248.97 L494.21,254.89 L494.47,259.95 L494.74,264.29 L495.00,268.03 L495.26,271.26 L495.53,274.05 L495.79,276.47 L496.05,278.57 L496.32,280.39 L496.58,281.98 L496.84,283.35 L497.11,284.53 L497.37,285.54 L497.63,286.40 L497.89,287.12 L498.16,287.71 L498.42,288.18 L498.68,288.54 L498.95,288.78 L499.21,288.91 L499.47,288.92 L499.74,288.82 L500.00,288.61 L500.26,288.26 L500.53,287.77 L500.79,287.14 L501.05,286.33 L501.32,285.33 L501.58,284.11 L501.84,282.63 L502.11,280.85 L502.37,278.71 L502.63,276.14 L502.89,273.06 L503.16,269.34 L503.42,264.86 L503.68,259.46 L503.95,252.96 L504.21,245.16 L504.47,235.89 L504.74,225.09 L505.00,212.91 L505.26,199.94 L505.53,187.37 L505.79,177.04 L506.05,171.03 L506.32,170.80 L506.58,176.43 L506.84,186.55 L507.11,199.10 L507.37,212.20 L507.63,224.59 L507.89,235.64 L508.16,245.16 L508.42,253.21 L508.68,259.95 L508.95,265.57 L509.21,270.25 L509.47,274.17 L509.74,277.46 L510.00,280.23 L510.26,282.57 L510.53,284.55 L510.79,286.24 L511.05,287.68 L511.32,288.91 L511.58,289.96 L511.84,290.86 L512.11,291.62 L512.37,292.27 L512.63,292.81 L512.89,293.26 L513.16,293.62 L513.42,293.90 L513.68,294.12 L513.95,294.26 L514.21,294.34 L514.47,294.36 L514.74,294.31 L515.00,294.20 L515.26,294.02 L515.53,293.77 L515.79,293.46 L516.05,293.07 L516.32,292.59 L516.58,292.03 L516.84,291.37 L517.11,290.60 L517.37,289.70 L517.63,288.66 L517.89,287.46 L518.16,286.08 L518.42,284.48 L518.68,282.63 L518.95,280.48 L519.21,277.98 L519.47,275.08 L519.74,271.69 L520.00,267.72 L520.26,263.07 L520.53,257.64 L520.79,251.30 L521.05,243.94 L521.32,235.51 L521.58,226.03 L521.84,215.70 L522.11,204.98 L522.37,194.68 L522.63,185.93 L522.89,180.00 L523.16,177.95 L523.42,180.17 L523.68,186.24 L523.95,195.12 L524.21,205.52 L524.47,216.32 L524.74,226.72 L525.00,236.27 L525.26,244.77 L525.53,252.19 L525.79,258.61 L526.05,264.12 L526.32,268.85 L526.58,272.93 L526.84,276.45 L527.11,279.49 L527.37,282.12 L527.63,284.41 L527.89,286.41 L528.16,288.17 L528.42,289.72 L528.68,291.09 L528.95,292.31 L529.21,293.40 L529.47,294.38 L529.74,295.26 L530.00,296.05 L530.26,296.77 L530.53,297.42 L530.79,298.01 L531.05,298.56 L531.32,299.05 L531.58,299.51 L531.84,299.93 L532.11,300.32 L532.37,300.68 L532.63,301.02 L532.89,301.33 L533.16,301.62 L533.42,301.89 L533.68,302.14 L533.95,302.38 L534.21,302.60 L534.47,302.81 L534.74,303.01 L535.00,303.20 L535.26,303.37 L535.53,303.54 L535.79,303.70 L536.05,303.85 L536.32,303.99 L536.58,304.12 L536.84,304.25 L537.11,304.38 L537.37,304.49 L537.63,304.61 L537.89,304.71 L538.16,304.82 L538.42,304.92 L538.68,305.01 L538.95,305.10 L539.21,305.19 L539.47,305.27 L539.74,305.35 L540.00,305.43 L540.26,305.51 L540.53,305.58 L540.79,305.65 L541.05,305.72 L541.32,305.79 L541.58,305.85 L541.84,305.91 L542.11,305.97 L542.37,306.03 L542.63,306.09 L542.89,306.14 L543.16,306.20 L543.42,306.25 L543.68,306.30 L543.95,306.35 L544.21,306.40 L544.47,306.44 L544.74,306.49 L545.00,306.54 L545.26,306.58 L545.53,306.62 L545.79,306.66 L546.05,306.71 L546.32,306.75 L546.58,306.78 L546.84,306.82 L547.11,306.86 L547.37,306.90 L547.63,306.93 L547.89,306.97 L548.16,307.00 L548.42,307.04 L548.68,307.07 L548.95,307.11 L549.21,307.14 L549.47,307.17 L549.74,307.20 L550.00,307.23 L550.26,307.26 L550.53,307.29 L550.79,307.32 L551.05,307.35 L551.32,307.38 L551.58,307.41 L551.84,307.44 L552.11,307.46 L552.37,307.49 L552.63,307.52 L552.89,307.55 L553.16,307.57 L553.42,307.60 L553.68,307.62 L553.95,307.65 L554.21,307.67 L554.47,307.70 L554.74,307.72 L555.00,307.74 L555.26,307.77 L555.53,307.79 L555.79,307.82 L556.05,307.84 L556.32,307.86 L556.58,307.88 L556.84,307.91 L557.11,307.93 L557.37,307.95 L557.63,307.97 L557.89,307.99 L558.16,308.01 L558.42,308.03 L558.68,308.05 L558.95,308.07 L559.21,308.10 L559.47,308.12 L559.74,308.14 L560.00,308.16 L560.26,308.17 L560.53,308.19 L560.79,308.21 L561.05,308.23 L561.32,308.25 L561.58,308.27 L561.84,308.29 L562.11,308.31 L562.37,308.33 L562.63,308.34 L562.89,308.36 L563.16,308.38 L563.42,308.40 L563.68,308.41 L563.95,308.43 L564.21,308.45 L564.47,308.47 L564.74,308.48 L565.00,308.50 L565.26,308.52 L565.53,308.53 L565.79,308.55 L566.05,308.56 L566.32,308.58 L566.58,308.60 L566.84,308.61 L567.11,308.63 L567.37,308.64 L567.63,308.66 L567.89,308.67 L568.16,308.69 L568.42,308.70 L568.68,308.72 L568.95,308.73 L569.21,308.74 L569.47,308.76 L569.74,308.77 L570.00,308.78 L570.26,308.80 L570.53,308.81 L570.79,308.82 L571.05,308.83 L571.32,308.85 L571.58,308.86 L571.84,308.87 L572.11,308.88 L572.37,308.89 L572.63,308.90 L572.89,308.91 L573.16,308.92 L573.42,308.93 L573.68,308.94 L573.95,308.94 L574.21,308.95 L574.47,308.96 L574.74,308.96 L575.00,308.97 L575.26,308.97 L575.53,308.97 L575.79,308.97 L576.05,308.97 L576.32,308.97 L576.58,308.96 L576.84,308.96 L577.11,308.95 L577.37,308.93 L577.63,308.92 L577.89,308.89 L578.16,308.87 L578.42,308.83 L578.68,308.79 L578.95,308.74 L579.21,308.68 L579.47,308.61 L579.74,308.53 L580.00,308.44 L580.26,308.33 L580.53,308.21 L580.79,308.08 L581.05,307.93 L581.32,307.77 L581.58,307.59 L581.84,307.40 L582.11,307.21 L582.37,307.00 L582.63,306.80 L582.89,306.60 L583.16,306.41 L583.42,306.24 L583.68,306.10 L583.95,306.00 L584.21,305.95 L584.47,305.95 L584.74,306.00 L585.00,306.10 L585.26,306.25 L585.53,306.43 L585.79,306.63 L586.05,306.86 L586.32,307.09 L586.58,307.32 L586.84,307.55 L587.11,307.77 L587.37,307.98 L587.63,308.18 L587.89,308.36 L588.16,308.53 L588.42,308.69 L588.68,308.83 L588.95,308.96 L589.21,309.07 L589.47,309.18 L589.74,309.27 L590.00,309.35 L590.26,309.42 L590.53,309.49 L590.79,309.55 L591.05,309.60 L591.32,309.65 L591.58,309.69 L591.84,309.73 L592.11,309.77 L592.37,309.79 L592.63,309.80 L592.89,309.82 L593.16,309.83 L593.42,309.84 L593.68,309.85 L593.95,309.86 L594.21,309.87 L594.47,309.88 L594.74,309.89 L595.00,309.89 L595.26,309.90 L595.53,309.90 L595.79,309.91 L596.05,309.91 L596.32,309.91 L596.58,309.92 L596.84,309.92 L597.11,309.92 L597.37,309.92 L597.63,309.92 L597.89,309.93 L598.16,309.93 L598.42,309.93 L598.68,309.93 L598.95,309.93 L599.21,309.93 L599.47,309.93 L599.74,309.93 L600.00,309.93 L600.26,309.93 L600.53,309.93 L600.79,309.92 L601.05,309.92 L601.32,309.92 L601.58,309.92 L601.84,309.92 L602.11,309.92 L602.37,309.91 L602.63,309.91 L602.89,309.91 L603.16,309.91 L603.42,309.90 L603.68,309.90 L603.95,309.90 L604.21,309.89 L604.47,309.89 L604.74,309.89 L605.00,309.88 L605.26,309.88 L605.53,309.87 L605.79,309.87 L606.05,309.87 L606.32,309.86 L606.58,309.86 L606.84,309.85 L607.11,309.85 L607.37,309.84 L607.63,309.83 L607.89,309.83 L608.16,309.82 L608.42,309.81 L608.68,309.81 L608.95,309.80 L609.21,309.79 L609.47,309.78 L609.74,309.78 L610.00,309.77 L610.26,309.76 L610.53,309.75 L610.79,309.74 L611.05,309.73 L611.32,309.71 L611.58,309.70 L611.84,309.69 L612.11,309.67 L612.37,309.65 L612.63,309.63 L612.89,309.60 L613.16,309.57 L613.42,309.53 L613.68,309.48 L613.95,309.42 L614.21,309.35 L614.47,309.25 L614.74,309.13 L615.00,308.98 L615.26,308.79 L615.53,308.57 L615.79,308.32 L616.05,308.03 L616.32,307.70 L616.58,307.33 L616.84,306.95 L617.11,306.55 L617.37,306.14 L617.63,305.76 L617.89,305.40 L618.16,305.10 L618.42,304.88 L618.68,304.75 L618.95,304.72 L619.21,304.79 L619.47,304.96 L619.74,305.21 L620.00,305.52 L620.26,305.87 L620.53,306.24 L620.79,306.61 L621.05,306.98 L621.32,307.32 L621.58,307.63 L621.84,307.90 L622.11,308.14 L622.37,308.34 L622.63,308.50 L622.89,308.63 L623.16,308.72 L623.42,308.79 L623.68,308.84 L623.95,308.87 L624.21,308.88 L624.47,308.88 L624.74,308.88 L625.00,308.86 L625.26,308.84 L625.53,308.81 L625.79,308.77 L626.05,308.74 L626.32,308.69 L626.58,308.65 L626.84,308.59 L627.11,308.54 L627.37,308.48 L627.63,308.41 L627.89,308.34 L628.16,308.26 L628.42,308.18 L628.68,308.08 L628.95,307.98 L629.21,307.87 L629.47,307.75 L629.74,307.62 L630.00,307.47 L630.26,307.31 L630.53,307.13 L630.79,306.93 L631.05,306.70 L631.32,306.45 L631.58,306.16 L631.84,305.84 L632.11,305.47 L632.37,305.05 L632.63,304.56 L632.89,303.99 L633.16,303.32 L633.42,302.53 L633.68,301.59 L633.95,300.45 L634.21,299.07 L634.47,297.35 L634.74,295.19 L635.00,292.44 L635.26,288.88 L635.53,284.19 L635.79,277.89 L636.05,269.31 L636.32,257.55 L636.58,241.66 L636.84,221.45 L637.11,199.60 L637.37,184.02 L637.63,184.00 L637.89,199.53 L638.16,221.33 L638.42,241.50 L638.68,257.33 L638.95,269.04 L639.21,277.57 L639.47,283.82 L639.74,288.46 L640.00,291.97 L640.26,294.66 L640.53,296.76 L640.79,298.42 L641.05,299.75 L641.32,300.82 L641.58,301.70 L641.84,302.42 L642.11,303.02 L642.37,303.51 L642.63,303.92 L642.89,304.26 L643.16,304.54 L643.42,304.77 L643.68,304.96 L643.95,305.10 L644.21,305.22 L644.47,305.30 L644.74,305.35 L645.00,305.37 L645.26,305.36 L645.53,305.33 L645.79,305.27 L646.05,305.18 L646.32,305.06 L646.58,304.92 L646.84,304.74 L647.11,304.52 L647.37,304.26 L647.63,303.96 L647.89,303.60 L648.16,303.18 L648.42,302.69 L648.68,302.12 L648.95,301.45 L649.21,300.66 L649.47,299.72 L649.74,298.59 L650.00,297.23 L650.26,295.57 L650.53,293.51 L650.79,290.92 L651.05,287.61 L651.32,283.35 L651.58,277.84 L651.84,270.72 L652.11,261.60 L652.37,250.13 L652.63,236.23 L652.89,220.43 L653.16,204.59 L653.42,192.31 L653.68,187.80 L653.95,192.96 L654.21,205.65 L654.47,221.60 L654.74,237.33 L655.00,251.10 L655.26,262.42 L655.53,271.42 L655.79,278.44 L656.05,283.88 L656.32,288.09 L656.58,291.37 L656.84,293.95 L657.11,296.00 L657.37,297.67 L657.63,299.04 L657.89,300.19 L658.16,301.16 L658.42,301.98 L658.68,302.68 L658.95,303.30 L659.21,303.83 L659.47,304.29 L659.74,304.70 L660.00,305.06 L660.26,305.38 L660.53,305.67 L660.79,305.92 L661.05,306.15 L661.32,306.36 L661.58,306.54 L661.84,306.71 L662.11,306.86 L662.37,307.00 L662.63,307.13 L662.89,307.24 L663.16,307.35 L663.42,307.44 L663.68,307.53 L663.95,307.61 L664.21,307.68 L664.47,307.75 L664.74,307.81 L665.00,307.86 L665.26,307.91 L665.53,307.95 L665.79,307.99 L666.05,308.03 L666.32,308.06 L666.58,308.08 L666.84,308.11 L667.11,308.12 L667.37,308.14 L667.63,308.15 L667.89,308.15 L668.16,308.16 L668.42,308.15 L668.68,308.15 L668.95,308.14 L669.21,308.12 L669.47,308.10 L669.74,308.07 L670.00,308.04 L670.26,308.00 L670.53,307.95 L670.79,307.90 L671.05,307.84 L671.32,307.76 L671.58,307.67 L671.84,307.57 L672.11,307.45 L672.37,307.32 L672.63,307.16 L672.89,306.98 L673.16,306.77 L673.42,306.53 L673.68,306.26 L673.95,305.95 L674.21,305.59 L674.47,305.19 L674.74,304.74 L675.00,304.23 L675.26,303.67 L675.53,303.04 L675.79,302.35 L676.05,301.60 L676.32,300.78 L676.58,299.90 L676.84,298.96 L677.11,297.96 L677.37,296.91 L677.63,295.82 L677.89,294.69 L678.16,293.53 L678.42,292.36 L678.68,291.18 L678.95,290.02 L679.21,288.87 L679.47,287.76 L679.74,286.70 L680.00,285.70 L680.26,284.77 L680.53,283.92 L680.79,283.16 L681.05,282.49 L681.32,281.91 L681.58,281.44 L681.84,281.05 L682.11,280.76 L682.37,280.54 L682.63,280.41 L682.89,280.34 L683.16,280.32 L683.42,280.35 L683.68,280.40 L683.95,280.48 L684.21,280.55 L684.47,280.63 L684.74,280.69 L685.00,280.73 L685.26,280.74 L685.53,280.71 L685.79,280.66 L686.05,280.56 L686.32,280.44 L686.58,280.29 L686.84,280.12 L687.11,279.93 L687.37,279.74 L687.63,279.57 L687.89,279.41 L688.16,279.28 L688.42,279.20 L688.68,279.18 L688.95,279.22 L689.21,279.34 L689.47,279.54 L689.74,279.83 L690.00,280.20 L690.26,280.67 L690.53,281.21 L690.79,281.84 L691.05,282.54 L691.32,283.30 L691.58,284.12 L691.84,284.99 L692.11,285.89 L692.37,286.83 L692.63,287.78 L692.89,288.75 L693.16,289.73 L693.42,290.70 L693.68,291.67 L693.95,292.62 L694.21,293.56 L694.47,294.48 L694.74,295.37 L695.00,296.23 L695.26,297.07 L695.53,297.87 L695.79,298.63 L696.05,299.36 L696.32,300.05 L696.58,300.71 L696.84,301.32 L697.11,301.90 L697.37,302.45 L697.63,302.95 L697.89,303.42 L698.16,303.86 L698.42,304.26 L698.68,304.63 L698.95,304.97 L699.21,305.27 L699.47,305.55 L699.74,305.80 L700.00,306.02 L700.26,306.22 L700.53,306.39 L700.79,306.53 L701.05,306.65 L701.32,306.74 L701.58,306.81 L701.84,306.85 L702.11,306.87 L702.37,306.86 L702.63,306.82 L702.89,306.75 L703.16,306.66 L703.42,306.53 L703.68,306.37 L703.95,306.18 L704.21,305.95 L704.47,305.69 L704.74,305.39 L705.00,305.04 L705.26,304.66 L705.53,304.24 L705.79,303.78 L706.05,303.27 L706.32,302.73 L706.58,302.14 L706.84,301.52 L707.11,300.85 L707.37,300.16 L707.63,299.43 L707.89,298.68 L708.16,297.90 L708.42,297.10 L708.68,296.29 L708.95,295.47 L709.21,294.65 L709.47,293.84 L709.74,293.04 L710.00,292.26 L710.26,291.51 L710.53,290.79 L710.79,290.11 L711.05,289.47 L711.32,288.89 L711.58,288.36 L711.84,287.89 L712.11,287.49 L712.37,287.14 L712.63,286.86 L712.89,286.65 L713.16,286.49 L713.42,286.39 L713.68,286.34 L713.95,286.34 L714.21,286.37 L714.47,286.44 L714.74,286.53 L715.00,286.64 L715.26,286.75 L715.53,286.86 L715.79,286.96 L716.05,287.03 L716.32,287.09 L716.58,287.11 L716.84,287.10 L717.11,287.06 L717.37,286.98 L717.63,286.87 L717.89,286.75 L718.16,286.61 L718.42,286.49 L718.68,286.39 L718.95,286.35 L719.21,286.38 L719.47,286.52 L719.74,286.79" fill="none" stroke="#383838" stroke-width="1.05" stroke-linejoin="round"/>
</g>
<path d="M96.5,33.800000000000004V32.2H133.1V33.800000000000004" fill="none" stroke="#5a5ac8" stroke-width="1.1"/>
<path d="M142.7,21.900000000000002V20.3H407.3V21.900000000000002" fill="none" stroke="#5a5ac8" stroke-width="1.1"/>
<path d="M240.1,9.9V8.3H508.0V9.9" fill="none" stroke="#5a5ac8" stroke-width="1.1"/>
<path d="M266.9,34.2V32.6H281.3V34.2" fill="none" stroke="#5a5ac8" stroke-width="1.1"/>
<path d="M363.2,55.0V53.4H381.5V55.0" fill="none" stroke="#5a5ac8" stroke-width="1.1"/>
</g>
<filter id="nf" filterUnits="userSpaceOnUse" x="0" y="0" width="550" height="352"><feColorMatrix type="identity"/></filter><g filter="url(#nf)">
<path d="M475.10,311.70 L475.35,311.69 L475.60,311.69 L475.85,311.68 L476.10,311.67 L476.35,311.67 L476.60,311.66 L476.85,311.65 L477.10,311.64 L477.35,311.63 L477.60,311.62 L477.85,311.61 L478.10,311.60 L478.35,311.59 L478.60,311.58 L478.85,311.57 L479.10,311.55 L479.35,311.54 L479.60,311.52 L479.85,311.51 L480.10,311.49 L480.35,311.47 L480.60,311.45 L480.85,311.42 L481.10,311.39 L481.35,311.36 L481.60,311.32 L481.85,311.28 L482.10,311.23 L482.35,311.17 L482.60,311.10 L482.85,311.00 L483.10,310.89 L483.35,310.73 L483.60,310.52 L483.85,310.23 L484.10,309.83 L484.35,309.32 L484.60,308.75 L484.85,308.21 L485.10,307.79 L485.35,307.48 L485.60,307.26 L485.85,307.09 L486.10,306.97 L486.35,306.87 L486.60,306.79 L486.85,306.72 L487.10,306.67 L487.35,306.62 L487.60,306.58 L487.85,306.54 L488.10,306.51 L488.35,306.48 L488.60,306.45 L488.85,306.43 L489.10,306.40 L489.35,306.38 L489.60,306.35 L489.85,306.33 L490.10,306.31 L490.35,306.29 L490.60,306.27 L490.85,306.24 L491.10,306.22 L491.35,306.20 L491.60,306.17 L491.85,306.15 L492.10,306.12 L492.35,306.09 L492.60,306.06 L492.85,306.03 L493.10,305.99 L493.35,305.95 L493.60,305.91 L493.85,305.86 L494.10,305.80 L494.35,305.73 L494.60,305.65 L494.85,305.55 L495.10,305.43 L495.35,305.28 L495.60,305.08 L495.85,304.82 L496.10,304.49 L496.35,304.07 L496.60,303.57 L496.85,303.01 L497.10,302.48 L497.35,302.01 L497.60,301.63 L497.85,301.33 L498.10,301.11 L498.35,300.93 L498.60,300.79 L498.85,300.69 L499.10,300.60 L499.35,300.53 L499.60,300.46 L499.85,300.41 L500.10,300.36 L500.35,300.32 L500.60,300.29 L500.85,300.26 L501.10,300.23 L501.35,300.20 L501.60,300.18 L501.85,300.16 L502.10,300.14 L502.35,300.12 L502.60,300.10 L502.85,300.08 L503.10,300.07 L503.35,300.06 L503.60,300.04 L503.85,300.03 L504.10,300.02 L504.35,300.01 L504.60,299.99 L504.85,299.98 L505.10,299.97 L505.35,299.96 L505.60,299.95 L505.85,299.94 L506.10,299.93 L506.35,299.93 L506.60,299.92 L506.85,299.91 L507.10,299.90" fill="none" stroke="#ff2424" stroke-width="1.0"/>
<path d="M475.2,328.0V331H507.9V328.0" fill="none" stroke="#ff2424" stroke-width="1.1"/>
<path d="M381.50,311.20 L381.75,311.11 L382.00,311.00 L382.25,310.88 L382.50,310.75 L382.75,310.60 L383.00,310.43 L383.25,310.23 L383.50,309.98 L383.75,309.70 L384.00,309.36 L384.25,308.97 L384.50,308.54 L384.75,308.08 L385.00,307.62 L385.25,307.20 L385.50,306.83 L385.75,306.51 L386.00,306.24 L386.25,306.02 L386.50,305.83 L386.75,305.67 L387.00,305.53 L387.25,305.41 L387.50,305.31 L387.75,305.21 L388.00,305.13 L388.25,305.05 L388.50,304.98 L388.75,304.92 L389.00,304.86 L389.25,304.80 L389.50,304.75 L389.75,304.69 L390.00,304.64 L390.25,304.60 L390.50,304.55 L390.75,304.50 L391.00,304.46 L391.25,304.41 L391.50,304.36 L391.75,304.32 L392.00,304.27 L392.25,304.22 L392.50,304.17 L392.75,304.11 L393.00,304.05 L393.25,303.99 L393.50,303.93 L393.75,303.86 L394.00,303.79 L394.25,303.70 L394.50,303.61 L394.75,303.51 L395.00,303.40 L395.25,303.27 L395.50,303.12 L395.75,302.95 L396.00,302.75 L396.25,302.52 L396.50,302.25 L396.75,301.93 L397.00,301.58 L397.25,301.18 L397.50,300.76 L397.75,300.32 L398.00,299.91 L398.25,299.52 L398.50,299.17 L398.75,298.87 L399.00,298.61 L399.25,298.39 L399.50,298.20" fill="none" stroke="#ff2424" stroke-width="1.0"/>
<path d="M381.5,328.0V331H400.5V328.0" fill="none" stroke="#ff2424" stroke-width="1.1"/>
<path d="M369.00,311.20 L369.25,311.07 L369.50,310.92 L369.75,310.75 L370.00,310.55 L370.25,310.33 L370.50,310.07 L370.75,309.77 L371.00,309.41 L371.25,308.99 L371.50,308.50 L371.75,307.92 L372.00,307.24 L372.25,306.46 L372.50,305.61 L372.75,304.72 L373.00,303.84 L373.25,303.01 L373.50,302.27 L373.75,301.62 L374.00,301.06 L374.25,300.59 L374.50,300.19 L374.75,299.85 L375.00,299.56 L375.25,299.31 L375.50,299.09 L375.75,298.90" fill="none" stroke="#ff2424" stroke-width="1.0"/>
<path d="M368.9,328.0V331H376.3V328.0" fill="none" stroke="#ff2424" stroke-width="1.1"/>
<path d="M268.20,311.50 L268.45,311.44 L268.70,311.38 L268.95,311.31 L269.20,311.24 L269.45,311.16 L269.70,311.07 L269.95,310.97 L270.20,310.86 L270.45,310.72 L270.70,310.56 L270.95,310.36 L271.20,310.10 L271.45,309.77 L271.70,309.33 L271.95,308.76 L272.20,308.03 L272.45,307.15 L272.70,306.13 L272.95,305.07 L273.20,304.07 L273.45,303.22 L273.70,302.52 L273.95,301.99 L274.20,301.57 L274.45,301.26 L274.70,301.02 L274.95,300.83 L275.20,300.68 L275.45,300.55 L275.70,300.44 L275.95,300.35 L276.20,300.28 L276.45,300.21 L276.70,300.15 L276.95,300.09 L277.20,300.04 L277.45,300.00 L277.70,299.96 L277.95,299.92 L278.20,299.89 L278.45,299.86 L278.70,299.83 L278.95,299.80 L279.20,299.78 L279.45,299.75 L279.70,299.73 L279.95,299.71 L280.20,299.69 L280.45,299.67 L280.70,299.66 L280.95,299.64 L281.20,299.62 L281.45,299.61 L281.70,299.59 L281.95,299.58 L282.20,299.57 L282.45,299.56 L282.70,299.54 L282.95,299.53 L283.20,299.52 L283.45,299.51 L283.70,299.50" fill="none" stroke="#ff2424" stroke-width="1.0"/>
<path d="M268.5,328.0V331H284.8V328.0" fill="none" stroke="#ff2424" stroke-width="1.1"/>
<path d="M242.30,311.50 L242.55,311.49 L242.80,311.48 L243.05,311.46 L243.30,311.45 L243.55,311.44 L243.80,311.42 L244.05,311.41 L244.30,311.40 L244.55,311.38 L244.80,311.36 L245.05,311.35 L245.30,311.33 L245.55,311.31 L245.80,311.29 L246.05,311.27 L246.30,311.25 L246.55,311.22 L246.80,311.19 L247.05,311.17 L247.30,311.13 L247.55,311.10 L247.80,311.06 L248.05,311.01 L248.30,310.96 L248.55,310.91 L248.80,310.84 L249.05,310.76 L249.30,310.67 L249.55,310.55 L249.80,310.41 L250.05,310.23 L250.30,310.00 L250.55,309.69 L250.80,309.29 L251.05,308.80 L251.30,308.23 L251.55,307.67 L251.80,307.19 L252.05,306.79 L252.30,306.49 L252.55,306.26 L252.80,306.08 L253.05,305.94 L253.30,305.83 L253.55,305.73 L253.80,305.65 L254.05,305.58 L254.30,305.52 L254.55,305.47 L254.80,305.42 L255.05,305.38 L255.30,305.34 L255.55,305.30 L255.80,305.27 L256.05,305.24 L256.30,305.21 L256.55,305.18 L256.80,305.15 L257.05,305.12 L257.30,305.09 L257.55,305.06 L257.80,305.04 L258.05,305.01 L258.30,304.98 L258.55,304.95 L258.80,304.92 L259.05,304.89 L259.30,304.86 L259.55,304.82 L259.80,304.79 L260.05,304.75 L260.30,304.71 L260.55,304.66 L260.80,304.61 L261.05,304.54 L261.30,304.47 L261.55,304.39 L261.80,304.29 L262.05,304.16 L262.30,303.99 L262.55,303.76 L262.80,303.45 L263.05,303.05 L263.30,302.56 L263.55,301.99 L263.80,301.44 L264.05,300.94 L264.30,300.55 L264.55,300.24 L264.80,300.01 L265.05,299.84 L265.30,299.71 L265.55,299.60 L265.80,299.51 L266.05,299.43 L266.30,299.36 L266.55,299.29 L266.80,299.23 L267.05,299.17 L267.30,299.11 L267.55,299.06 L267.80,299.00" fill="none" stroke="#ff2424" stroke-width="1.0"/>
<path d="M242.3,328.0V331H268.5V328.0" fill="none" stroke="#ff2424" stroke-width="1.1"/>
<path d="M146.30,311.70 L146.55,311.65 L146.80,311.60 L147.05,311.54 L147.30,311.48 L147.55,311.41 L147.80,311.34 L148.05,311.25 L148.30,311.14 L148.55,311.02 L148.80,310.86 L149.05,310.68 L149.30,310.45 L149.55,310.18 L149.80,309.86 L150.05,309.49 L150.30,309.07 L150.55,308.61 L150.80,308.13 L151.05,307.65 L151.30,307.19 L151.55,306.77 L151.80,306.39 L152.05,306.07 L152.30,305.80 L152.55,305.56 L152.80,305.37 L153.05,305.21 L153.30,305.06 L153.55,304.94 L153.80,304.83 L154.05,304.73 L154.30,304.63 L154.55,304.53 L154.80,304.43 L155.05,304.33 L155.30,304.23 L155.55,304.12 L155.80,304.01 L156.05,303.90 L156.30,303.79 L156.55,303.67 L156.80,303.55 L157.05,303.44 L157.30,303.32 L157.55,303.21 L157.80,303.10 L158.05,302.99 L158.30,302.88 L158.55,302.78 L158.80,302.68 L159.05,302.58 L159.30,302.47 L159.55,302.37 L159.80,302.26 L160.05,302.15 L160.30,302.03 L160.55,301.89 L160.80,301.73 L161.05,301.56 L161.30,301.34 L161.55,301.09 L161.80,300.79 L162.05,300.44 L162.30,300.02 L162.55,299.54 L162.80,299.02 L163.05,298.47 L163.30,297.94 L163.55,297.44 L163.80,296.99 L164.05,296.61 L164.30,296.28 L164.55,296.01 L164.80,295.77 L165.05,295.57 L165.30,295.40" fill="none" stroke="#ff2424" stroke-width="1.0"/>
<path d="M146.5,328.0V331H166.1V328.0" fill="none" stroke="#ff2424" stroke-width="1.1"/>
<path d="M96.75,311.75 L97.00,311.73 L97.25,311.71 L97.50,311.69 L97.75,311.67 L98.00,311.65 L98.25,311.62 L98.50,311.60 L98.75,311.58 L99.00,311.55 L99.25,311.53 L99.50,311.50 L99.75,311.48 L100.00,311.45 L100.25,311.42 L100.50,311.39 L100.75,311.36 L101.00,311.33 L101.25,311.30 L101.50,311.27 L101.75,311.24 L102.00,311.20 L102.25,311.17 L102.50,311.13 L102.75,311.09 L103.00,311.06 L103.25,311.02 L103.50,310.97 L103.75,310.93 L104.00,310.89 L104.25,310.84 L104.50,310.79 L104.75,310.74 L105.00,310.69 L105.25,310.63 L105.50,310.58 L105.75,310.52 L106.00,310.45 L106.25,310.39 L106.50,310.32 L106.75,310.25 L107.00,310.17 L107.25,310.09 L107.50,310.01 L107.75,309.92 L108.00,309.83 L108.25,309.73 L108.50,309.63 L108.75,309.52 L109.00,309.40 L109.25,309.28 L109.50,309.15 L109.75,309.00 L110.00,308.85 L110.25,308.69 L110.50,308.51 L110.75,308.32 L111.00,308.12 L111.25,307.89 L111.50,307.65 L111.75,307.38 L112.00,307.08 L112.25,306.75 L112.50,306.39 L112.75,305.98 L113.00,305.51 L113.25,304.99 L113.50,304.39 L113.75,303.71 L114.00,302.95 L114.25,302.13 L114.50,301.26 L114.75,300.38 L115.00,299.51 L115.25,298.65 L115.50,297.78 L115.75,296.90 L116.00,296.00 L116.25,295.10 L116.50,294.22 L116.75,293.36 L117.00,292.49 L117.25,291.62 L117.50,290.74 L117.75,289.87 L118.00,289.05 L118.25,288.29 L118.50,287.60 L118.75,287.00 L119.00,286.48 L119.25,286.01 L119.50,285.60 L119.75,285.23 L120.00,284.90 L120.25,284.60 L120.50,284.33 L120.75,284.08 L121.00,283.85 L121.25,283.64 L121.50,283.45 L121.75,283.27 L122.00,283.10 L122.25,282.94 L122.50,282.80 L122.75,282.66 L123.00,282.53 L123.25,282.41 L123.50,282.29 L123.75,282.18 L124.00,282.07 L124.25,281.98 L124.50,281.88 L124.75,281.79 L125.00,281.70 L125.25,281.62 L125.50,281.54 L125.75,281.46 L126.00,281.38 L126.25,281.31 L126.50,281.24 L126.75,281.17 L127.00,281.10 L127.25,281.04 L127.50,280.97 L127.75,280.91 L128.00,280.85 L128.25,280.79 L128.50,280.73 L128.75,280.67 L129.00,280.61 L129.25,280.55 L129.50,280.49 L129.75,280.43 L130.00,280.37 L130.25,280.31 L130.50,280.25 L130.75,280.19 L131.00,280.13 L131.25,280.07 L131.50,280.01 L131.75,279.94 L132.00,279.88 L132.25,279.81 L132.50,279.75" fill="none" stroke="#ff2424" stroke-width="1.0"/>
<path d="M96.5,328.0V331H133.4V328.0" fill="none" stroke="#ff2424" stroke-width="1.1"/>
<text transform="translate(27.30,9.00) scale(0.94,1)" font-family="Liberation Sans, sans-serif" font-size="6.0" fill="#222">mk152.2.001.esp</text>
<text transform="translate(17.10,313.70) scale(0.92,1)" font-family="Liberation Sans, sans-serif" font-size="6.3" fill="#333" text-anchor="middle">0</text>
<text transform="translate(17.10,298.88) scale(0.92,1)" font-family="Liberation Sans, sans-serif" font-size="6.3" fill="#333" text-anchor="middle">0.05</text>
<text transform="translate(17.10,284.05) scale(0.92,1)" font-family="Liberation Sans, sans-serif" font-size="6.3" fill="#333" text-anchor="middle">0.10</text>
<text transform="translate(17.10,269.22) scale(0.92,1)" font-family="Liberation Sans, sans-serif" font-size="6.3" fill="#333" text-anchor="middle">0.15</text>
<text transform="translate(17.10,254.40) scale(0.92,1)" font-family="Liberation Sans, sans-serif" font-size="6.3" fill="#333" text-anchor="middle">0.20</text>
<text transform="translate(17.10,239.57) scale(0.92,1)" font-family="Liberation Sans, sans-serif" font-size="6.3" fill="#333" text-anchor="middle">0.25</text>
<text transform="translate(17.10,224.75) scale(0.92,1)" font-family="Liberation Sans, sans-serif" font-size="6.3" fill="#333" text-anchor="middle">0.30</text>
<text transform="translate(17.10,209.92) scale(0.92,1)" font-family="Liberation Sans, sans-serif" font-size="6.3" fill="#333" text-anchor="middle">0.35</text>
<text transform="translate(17.10,195.10) scale(0.92,1)" font-family="Liberation Sans, sans-serif" font-size="6.3" fill="#333" text-anchor="middle">0.40</text>
<text transform="translate(17.10,180.27) scale(0.92,1)" font-family="Liberation Sans, sans-serif" font-size="6.3" fill="#333" text-anchor="middle">0.45</text>
<text transform="translate(17.10,165.45) scale(0.92,1)" font-family="Liberation Sans, sans-serif" font-size="6.3" fill="#333" text-anchor="middle">0.50</text>
<text transform="translate(17.10,150.62) scale(0.92,1)" font-family="Liberation Sans, sans-serif" font-size="6.3" fill="#333" text-anchor="middle">0.55</text>
<text transform="translate(17.10,135.80) scale(0.92,1)" font-family="Liberation Sans, sans-serif" font-size="6.3" fill="#333" text-anchor="middle">0.60</text>
<text transform="translate(17.10,120.97) scale(0.92,1)" font-family="Liberation Sans, sans-serif" font-size="6.3" fill="#333" text-anchor="middle">0.65</text>
<text transform="translate(17.10,106.15) scale(0.92,1)" font-family="Liberation Sans, sans-serif" font-size="6.3" fill="#333" text-anchor="middle">0.70</text>
<text transform="translate(17.10,91.32) scale(0.92,1)" font-family="Liberation Sans, sans-serif" font-size="6.3" fill="#333" text-anchor="middle">0.75</text>
<text transform="translate(17.10,76.50) scale(0.92,1)" font-family="Liberation Sans, sans-serif" font-size="6.3" fill="#333" text-anchor="middle">0.80</text>
<text transform="translate(17.10,61.67) scale(0.92,1)" font-family="Liberation Sans, sans-serif" font-size="6.3" fill="#333" text-anchor="middle">0.85</text>
<text transform="translate(40.30,343.60) scale(0.92,1)" font-family="Liberation Sans, sans-serif" font-size="6.3" fill="#333" text-anchor="middle">2.60</text>
<text transform="translate(76.21,343.60) scale(0.92,1)" font-family="Liberation Sans, sans-serif" font-size="6.3" fill="#333" text-anchor="middle">2.55</text>
<text transform="translate(112.13,343.60) scale(0.92,1)" font-family="Liberation Sans, sans-serif" font-size="6.3" fill="#333" text-anchor="middle">2.50</text>
<text transform="translate(148.04,343.60) scale(0.92,1)" font-family="Liberation Sans, sans-serif" font-size="6.3" fill="#333" text-anchor="middle">2.45</text>
<text transform="translate(183.96,343.60) scale(0.92,1)" font-family="Liberation Sans, sans-serif" font-size="6.3" fill="#333" text-anchor="middle">2.40</text>
<text transform="translate(219.88,343.60) scale(0.92,1)" font-family="Liberation Sans, sans-serif" font-size="6.3" fill="#333" text-anchor="middle">2.35</text>
<text transform="translate(255.79,343.60) scale(0.92,1)" font-family="Liberation Sans, sans-serif" font-size="6.3" fill="#333" text-anchor="middle">2.30</text>
<text transform="translate(291.71,343.60) scale(0.92,1)" font-family="Liberation Sans, sans-serif" font-size="6.3" fill="#333" text-anchor="middle">2.25</text>
<text transform="translate(327.62,343.60) scale(0.92,1)" font-family="Liberation Sans, sans-serif" font-size="6.3" fill="#333" text-anchor="middle">2.20</text>
<text transform="translate(363.54,343.60) scale(0.92,1)" font-family="Liberation Sans, sans-serif" font-size="6.3" fill="#333" text-anchor="middle">2.15</text>
<text transform="translate(399.45,343.60) scale(0.92,1)" font-family="Liberation Sans, sans-serif" font-size="6.3" fill="#333" text-anchor="middle">2.10</text>
<text transform="translate(435.37,343.60) scale(0.92,1)" font-family="Liberation Sans, sans-serif" font-size="6.3" fill="#333" text-anchor="middle">2.05</text>
<text transform="translate(471.28,343.60) scale(0.92,1)" font-family="Liberation Sans, sans-serif" font-size="6.3" fill="#333" text-anchor="middle">2.00</text>
<text transform="translate(507.19,343.60) scale(0.92,1)" font-family="Liberation Sans, sans-serif" font-size="6.3" fill="#333" text-anchor="middle">1.95</text>
<text transform="translate(543.11,343.60) scale(0.92,1)" font-family="Liberation Sans, sans-serif" font-size="6.3" fill="#333" text-anchor="middle">1.90</text>
<text transform="translate(286.80,349.40) scale(0.93,1)" font-family="Liberation Sans, sans-serif" font-size="6.0" fill="#333" text-anchor="middle">Chemical Shift (ppm)</text>
<text transform="translate(8.60,167.00) rotate(-90) scale(0.93,1)" font-family="Liberation Sans, sans-serif" font-size="6.0" fill="#333" text-anchor="middle">Absolute Intensity</text>
<text transform="translate(115.15,325.90) scale(0.92,1)" font-family="Liberation Sans, sans-serif" font-size="6.3" fill="#ff2424" stroke="#ff2424" stroke-width="0.08" text-anchor="middle">6.13</text>
<text transform="translate(156.50,325.90) scale(0.92,1)" font-family="Liberation Sans, sans-serif" font-size="6.3" fill="#ff2424" stroke="#ff2424" stroke-width="0.08" text-anchor="middle">4.03</text>
<text transform="translate(255.60,325.90) scale(0.92,1)" font-family="Liberation Sans, sans-serif" font-size="6.3" fill="#ff2424" stroke="#ff2424" stroke-width="0.08" text-anchor="middle">2.99</text>
<text transform="translate(276.85,325.90) scale(0.92,1)" font-family="Liberation Sans, sans-serif" font-size="6.3" fill="#ff2424" stroke="#ff2424" stroke-width="0.08" text-anchor="middle">3.00</text>
<text transform="translate(372.80,325.90) scale(0.92,1)" font-family="Liberation Sans, sans-serif" font-size="6.3" fill="#ff2424" stroke="#ff2424" stroke-width="0.08" text-anchor="middle">3.11</text>
<text transform="translate(391.20,325.90) scale(0.92,1)" font-family="Liberation Sans, sans-serif" font-size="6.3" fill="#ff2424" stroke="#ff2424" stroke-width="0.08" text-anchor="middle">3.51</text>
<text transform="translate(491.75,325.90) scale(0.92,1)" font-family="Liberation Sans, sans-serif" font-size="6.3" fill="#ff2424" stroke="#ff2424" stroke-width="0.08" text-anchor="middle">2.99</text>
<text transform="translate(114.60,31.20)" font-family="Liberation Sans, sans-serif" font-size="5.9" fill="#2b2bb0" stroke="#2b2bb0" stroke-width="0.12" text-anchor="middle">M03(s)</text>
<text transform="translate(275.00,19.30)" font-family="Liberation Sans, sans-serif" font-size="5.9" fill="#2b2bb0" stroke="#2b2bb0" stroke-width="0.12" text-anchor="middle">M01(dd)</text>
<text transform="translate(373.60,7.30)" font-family="Liberation Sans, sans-serif" font-size="5.9" fill="#2b2bb0" stroke="#2b2bb0" stroke-width="0.12" text-anchor="middle">M02(dd)</text>
<text transform="translate(274.00,31.40)" font-family="Liberation Sans, sans-serif" font-size="5.9" fill="#2b2bb0" stroke="#2b2bb0" stroke-width="0.12" text-anchor="middle">M05(s)</text>
<text transform="translate(372.30,52.30)" font-family="Liberation Sans, sans-serif" font-size="5.9" fill="#2b2bb0" stroke="#2b2bb0" stroke-width="0.12" text-anchor="middle">M04(s)</text>
<path d="M115.8,53.5V49.10" stroke="#2b2bb0" stroke-width="0.9"/>
<text transform="translate(117.90,47.80) rotate(-90) scale(0.9,1)" font-family="Liberation Sans, sans-serif" font-size="5.8" fill="#2b2bb0" stroke="#2b2bb0" stroke-width="0.12">2.49</text>
<path d="M133.7,290.1V285.90" stroke="#2b2bb0" stroke-width="0.9"/>
<text transform="translate(135.80,285.30) rotate(-90) scale(0.9,1)" font-family="Liberation Sans, sans-serif" font-size="5.8" fill="#2b2bb0" stroke="#2b2bb0" stroke-width="0.12">2.47</text>
<path d="M140.4,291.3V287.00" stroke="#2b2bb0" stroke-width="0.9"/>
<text transform="translate(142.50,286.40) rotate(-90) scale(0.9,1)" font-family="Liberation Sans, sans-serif" font-size="5.8" fill="#2b2bb0" stroke="#2b2bb0" stroke-width="0.12">2.46</text>
<path d="M150.8,172.2V167.80" stroke="#2b2bb0" stroke-width="0.9"/>
<text transform="translate(152.90,167.10) rotate(-90) scale(0.9,1)" font-family="Liberation Sans, sans-serif" font-size="5.8" fill="#2b2bb0" stroke="#2b2bb0" stroke-width="0.12">2.45</text>
<path d="M157.0,277.6V274.00" stroke="#2b2bb0" stroke-width="0.9"/>
<text transform="translate(159.10,273.40) rotate(-90) scale(0.9,1)" font-family="Liberation Sans, sans-serif" font-size="5.8" fill="#2b2bb0" stroke="#2b2bb0" stroke-width="0.12">2.44</text>
<path d="M163.3,153.7V149.30" stroke="#2b2bb0" stroke-width="0.9"/>
<text transform="translate(165.40,148.60) rotate(-90) scale(0.9,1)" font-family="Liberation Sans, sans-serif" font-size="5.8" fill="#2b2bb0" stroke="#2b2bb0" stroke-width="0.12">2.43</text>
<path d="M180.3,278.4V276.80" stroke="#2b2bb0" stroke-width="0.9"/>
<text transform="translate(182.40,276.20) rotate(-90) scale(0.9,1)" font-family="Liberation Sans, sans-serif" font-size="5.8" fill="#2b2bb0" stroke="#2b2bb0" stroke-width="0.12">2.41</text>
<path d="M203.7,291.6V287.20" stroke="#2b2bb0" stroke-width="0.9"/>
<text transform="translate(205.80,286.30) rotate(-90) scale(0.9,1)" font-family="Liberation Sans, sans-serif" font-size="5.8" fill="#2b2bb0" stroke="#2b2bb0" stroke-width="0.12">2.37</text>
<path d="M214.4,292.0V287.60" stroke="#2b2bb0" stroke-width="0.9"/>
<text transform="translate(216.50,286.80) rotate(-90) scale(0.9,1)" font-family="Liberation Sans, sans-serif" font-size="5.8" fill="#2b2bb0" stroke="#2b2bb0" stroke-width="0.12">2.36</text>
<path d="M251.0,181.4V177.00" stroke="#2b2bb0" stroke-width="0.9"/>
<text transform="translate(253.10,176.30) rotate(-90) scale(0.9,1)" font-family="Liberation Sans, sans-serif" font-size="5.8" fill="#2b2bb0" stroke="#2b2bb0" stroke-width="0.12">2.31</text>
<path d="M263.4,181.0V176.60" stroke="#2b2bb0" stroke-width="0.9"/>
<text transform="translate(265.50,175.80) rotate(-90) scale(0.9,1)" font-family="Liberation Sans, sans-serif" font-size="5.8" fill="#2b2bb0" stroke="#2b2bb0" stroke-width="0.12">2.29</text>
<path d="M271.6,53.6V49.20" stroke="#2b2bb0" stroke-width="0.9"/>
<text transform="translate(273.70,48.00) rotate(-90) scale(0.9,1)" font-family="Liberation Sans, sans-serif" font-size="5.8" fill="#2b2bb0" stroke="#2b2bb0" stroke-width="0.12">2.28</text>
<path d="M358.8,295.5V291.60" stroke="#2b2bb0" stroke-width="0.9"/>
<text transform="translate(360.90,291.00) rotate(-90) scale(0.9,1)" font-family="Liberation Sans, sans-serif" font-size="5.8" fill="#2b2bb0" stroke="#2b2bb0" stroke-width="0.12">2.16</text>
<path d="M385.2,168.7V164.30" stroke="#2b2bb0" stroke-width="0.9"/>
<text transform="translate(387.30,163.60) rotate(-90) scale(0.9,1)" font-family="Liberation Sans, sans-serif" font-size="5.8" fill="#2b2bb0" stroke="#2b2bb0" stroke-width="0.12">2.12</text>
<path d="M397.3,175.8V171.40" stroke="#2b2bb0" stroke-width="0.9"/>
<text transform="translate(399.40,170.80) rotate(-90) scale(0.9,1)" font-family="Liberation Sans, sans-serif" font-size="5.8" fill="#2b2bb0" stroke="#2b2bb0" stroke-width="0.12">2.10</text>
<path d="M483.9,179.6V175.20" stroke="#2b2bb0" stroke-width="0.9"/>
<text transform="translate(486.00,173.80) rotate(-90) scale(0.9,1)" font-family="Liberation Sans, sans-serif" font-size="5.8" fill="#2b2bb0" stroke="#2b2bb0" stroke-width="0.12">1.98</text>
<path d="M496.5,185.0V181.60" stroke="#2b2bb0" stroke-width="0.9"/>
<text transform="translate(498.60,181.00) rotate(-90) scale(0.9,1)" font-family="Liberation Sans, sans-serif" font-size="5.8" fill="#2b2bb0" stroke="#2b2bb0" stroke-width="0.12">1.97</text>
<path d="M523.2,276.0V271.60" stroke="#2b2bb0" stroke-width="0.9"/>
<text transform="translate(525.30,270.60) rotate(-90) scale(0.9,1)" font-family="Liberation Sans, sans-serif" font-size="5.8" fill="#2b2bb0" stroke="#2b2bb0" stroke-width="0.12">1.93</text>
<path d="M515.9,273.6L519.2,278.3" stroke="#2b2bb0" stroke-width="0.9"/>
<text transform="translate(518.00,272.60) rotate(-90) scale(0.9,1)" font-family="Liberation Sans, sans-serif" font-size="5.8" fill="#2b2bb0" stroke="#2b2bb0" stroke-width="0.12">1.93</text>
<path d="M539.4,279.6L542.5,284.3" stroke="#2b2bb0" stroke-width="0.9"/>
<text transform="translate(541.50,278.60) rotate(-90) scale(0.9,1)" font-family="Liberation Sans, sans-serif" font-size="5.8" fill="#2b2bb0" stroke="#2b2bb0" stroke-width="0.12">1.90</text>
<path d="M545.4,281.3V284.2" stroke="#2b2bb0" stroke-width="0.9"/>
</g>
</svg></body></html>
